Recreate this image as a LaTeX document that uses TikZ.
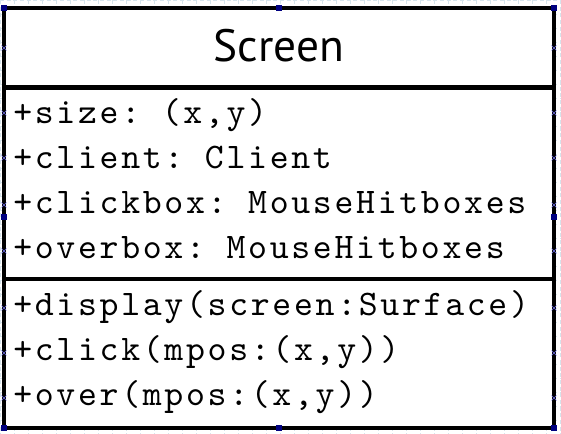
\documentclass[tikz,border=0pt]{standalone}
\usepackage{fontspec}
\setmonofont{lmmono10-regular}[Extension=.otf, LetterSpace=7.5]
\newfontfamily\titlefont{PT Sans}
\definecolor{gridblue}{RGB}{214,228,236}
\definecolor{handleblue}{RGB}{0,0,128}
\definecolor{markblue}{RGB}{110,110,230}
\tikzset{
  member/.style={anchor=base west, inner sep=0pt, font=\ttfamily\fontsize{27pt}{27pt}\selectfont},
  classtitle/.style={anchor=base, inner sep=0pt, font=\titlefont\fontsize{34pt}{34pt}\selectfont},
  handle/.style={fill=handleblue, minimum size=4.5pt, inner sep=0pt},
  portmark/.style={markblue, line width=0.5pt},
}
\begin{document}
\begin{tikzpicture}[x=0.75pt,y=0.75pt,yscale=-1,xscale=1]
  \useasboundingbox (0,0) rectangle (561,434);
  % editor grid
  \draw [gridblue, line width=0.4pt, dash pattern={on 3pt off 2pt}, step=10.5pt] (0,0) grid (561,434);
  % class box
  \draw [line width=3.4pt, fill=white] (4,8) rectangle (554,428);
  \draw [line width=3.4pt] (4,87.5) -- (554,87.5);
  \draw [line width=3.4pt] (4,279) -- (554,279);
  \node [classtitle] (title) at (279,61.7) {Screen};
  % attributes
  \node [member] (size) at (13,123.3) {+size: (x,y)};
  \node [member] (client) at (13,168.3) {+client: Client};
  \node [member] (clickbox) at (13,213.3) {+clickbox: MouseHitboxes};
  \node [member] (overbox) at (13,258.3) {+overbox: MouseHitboxes};
  % operations
  \node [member] (display) at (13,315.3) {+display(screen:Surface)};
  \node [member] (click) at (13,360.3) {+click(mpos:(x,y))};
  \node [member] (over) at (13,405.3) {+over(mpos:(x,y))};
  % selection handles
  \node [handle] (nw) at (4,8) {};
  \node [handle] (n) at (279,8) {};
  \node [handle] (ne) at (554,8) {};
  \node [handle] (w) at (4,217) {};
  \node [handle] (e) at (554,217) {};
  \node [handle] (sw) at (4,428) {};
  \node [handle] (s) at (279,428) {};
  \node [handle] (se) at (554,428) {};
  \foreach \y in {48,113,158,205,251,308,353,398} {
    \draw [portmark] (1.5,\y-2.5) -- (6.5,\y+2.5) (1.5,\y+2.5) -- (6.5,\y-2.5);
    \draw [portmark] (551.5,\y-2.5) -- (556.5,\y+2.5) (551.5,\y+2.5) -- (556.5,\y-2.5);
  }
\end{tikzpicture}
\end{document}
